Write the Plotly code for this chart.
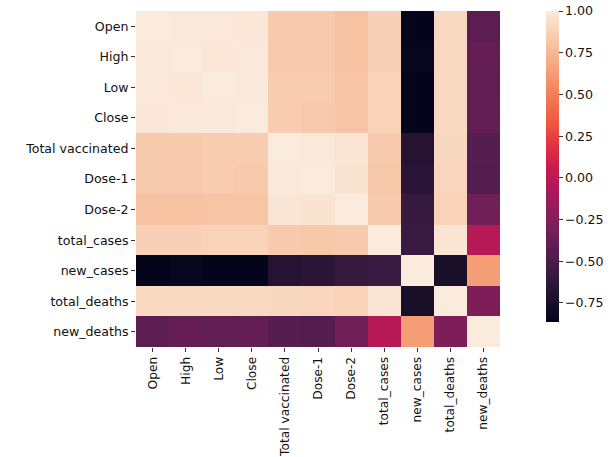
import numpy as np
import plotly.graph_objects as go

labels = ["Open", "High", "Low", "Close", "Total vaccinated", "Dose-1", "Dose-2",
          "total_cases", "new_cases", "total_deaths", "new_deaths"]

# correlation matrix rows, one per variable
open_ = [1.00, 0.99, 0.99, 0.98, 0.84, 0.84, 0.80, 0.87, -0.86, 0.91, -0.42]
high = [0.99, 1.00, 0.98, 0.99, 0.84, 0.84, 0.80, 0.87, -0.85, 0.91, -0.38]
low = [0.99, 0.98, 1.00, 0.99, 0.85, 0.85, 0.81, 0.88, -0.86, 0.91, -0.40]
close = [0.98, 0.99, 0.99, 1.00, 0.85, 0.84, 0.81, 0.88, -0.86, 0.91, -0.39]
total_vaccinated = [0.84, 0.84, 0.85, 0.85, 1.00, 0.99, 0.97, 0.84, -0.68, 0.90, -0.45]
dose_1 = [0.84, 0.84, 0.85, 0.84, 0.99, 1.00, 0.96, 0.83, -0.65, 0.89, -0.46]
dose_2 = [0.80, 0.80, 0.81, 0.81, 0.97, 0.96, 1.00, 0.84, -0.60, 0.88, -0.33]
total_cases = [0.87, 0.87, 0.88, 0.88, 0.84, 0.83, 0.84, 1.00, -0.58, 0.97, -0.02]
new_cases = [-0.86, -0.85, -0.86, -0.86, -0.68, -0.65, -0.60, -0.58, 1.00, -0.74, 0.63]
total_deaths = [0.91, 0.91, 0.91, 0.91, 0.90, 0.89, 0.88, 0.97, -0.74, 1.00, -0.27]
new_deaths = [-0.42, -0.38, -0.40, -0.39, -0.45, -0.46, -0.33, -0.02, 0.63, -0.27, 1.00]

corr = np.array([open_, high, low, close, total_vaccinated, dose_1, dose_2,
                 total_cases, new_cases, total_deaths, new_deaths])

colorbar_ticks = [1.00, 0.75, 0.50, 0.25, 0.00, -0.25, -0.50, -0.75]

# seaborn "rocket" palette
rocket = [
    [0.000, "#03051A"],
    [0.071, "#1B1029"],
    [0.143, "#35193E"],
    [0.214, "#521D4F"],
    [0.286, "#701F57"],
    [0.357, "#8F1D5B"],
    [0.429, "#AD1759"],
    [0.500, "#CB1B4F"],
    [0.571, "#E13342"],
    [0.643, "#EF5A41"],
    [0.714, "#F37651"],
    [0.786, "#F5966E"],
    [0.857, "#F6B48F"],
    [0.929, "#F8D0B5"],
    [1.000, "#FAEBDD"],
]

font = dict(family="DejaVu Sans", size=12.6, color="#111111")
xfont = dict(family="DejaVu Sans", size=12.2, color="#111111")

fig = go.Figure(go.Heatmap(
    z=corr,
    x=labels,
    y=labels,
    colorscale=rocket,
    zmin=float(corr.min()) - 0.004,
    zmax=float(corr.max()),
    xgap=0, ygap=0,
    colorbar=dict(
        x=(546 - 136) / 364, xanchor="left", xpad=0,
        y=1, yanchor="top", ypad=0,
        len=311 / 336, lenmode="fraction",
        thickness=13,
        outlinewidth=0,
        tickvals=colorbar_ticks,
        tickformat=".2f",
        ticks="outside", ticklen=4, tickcolor="#333333",
        tickfont=font,
    ),
))

fig.update_layout(
    width=612, height=457,
    margin=dict(l=136, r=112, t=11, b=110, autoexpand=False),
    paper_bgcolor="white", plot_bgcolor="white",
    font=font,
    xaxis=dict(tickangle=-90, ticks="outside", ticklen=4, tickcolor="#333333",
               showgrid=False, zeroline=False, showline=False, tickfont=xfont,
               automargin=False, ticklabelstandoff=0),
    yaxis=dict(autorange="reversed", ticks="outside", ticklen=4, tickcolor="#333333",
               showgrid=False, zeroline=False, showline=False, tickfont=font,
               automargin=False),
)

fig.write_html("out.html")
